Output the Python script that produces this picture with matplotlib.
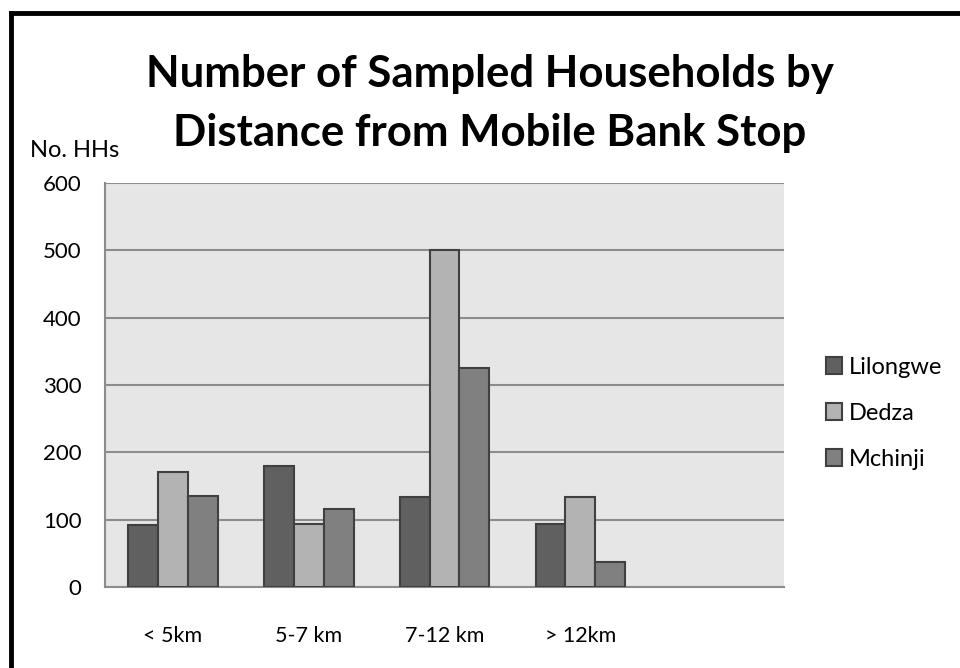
import numpy as np
import matplotlib.pyplot as plt
from matplotlib.lines import Line2D

# Households sampled per distance band, one list per district
categories = ['< 5km', '5-7 km', '7-12 km', '> 12km', '']
lilongwe = [92, 180, 133, 94]
dedza = [171, 94, 501, 133]
mchinji = [135, 116, 325, 37]
districts = ['Lilongwe', 'Dedza', 'Mchinji']
colors = ['#606060', '#b3b3b3', '#808080']

plt.rcParams['font.family'] = ['Lato', 'DejaVu Sans']

fig = plt.figure(figsize=(9.6, 6.68), dpi=100)
ax = fig.add_axes([0.1094, 0.1213, 0.7073, 0.6048])
ax.set_facecolor('#e6e6e6')

x = np.arange(len(categories))
w = 0.22
for i, (vals, name, c) in enumerate(zip([lilongwe, dedza, mchinji], districts, colors)):
    xs = x[:len(vals)] + (i - 1) * w
    ax.bar(xs, vals, width=w, color=c, edgecolor='#404040', linewidth=1.5,
           label=name, zorder=3)

ax.set_xlim(-0.5, len(categories) - 0.5)
ax.set_ylim(0, 600)
ax.set_yticks(np.arange(0, 601, 100))
ax.set_xticks(x)
ax.set_xticklabels(categories)
ax.yaxis.grid(True, color='#8c8c8c', linewidth=1.5, zorder=0)
ax.set_axisbelow(True)
for s in ['top', 'right']:
    ax.spines[s].set_visible(False)
for s in ['left', 'bottom']:
    ax.spines[s].set_color('#8c8c8c')
    ax.spines[s].set_linewidth(1.5)
ax.tick_params(axis='y', length=0, labelsize=16, pad=17)
ax.tick_params(axis='x', length=0, labelsize=15.5, pad=28)

fig.text(0.51, 0.845, 'Number of Sampled Households by\nDistance from Mobile Bank Stop',
         ha='center', va='center', fontsize=31.5, fontweight='bold', linespacing=1.6)
fig.text(0.031, 0.775, 'No. HHs', ha='left', va='center', fontsize=17)

leg = ax.legend(loc='center left', bbox_to_anchor=(1.03, 0.43), frameon=False,
                fontsize=17, handlelength=0.7, handleheight=0.7,
                handletextpad=0.3, labelspacing=1.05)

# black frame along top and left edges
fig.add_artist(Line2D([0.011, 1.0], [0.981, 0.981], color='black', linewidth=3.5,
                      transform=fig.transFigure))
fig.add_artist(Line2D([0.011, 0.011], [0.0, 0.981], color='black', linewidth=3.5,
                      transform=fig.transFigure))

fig.savefig('out.png', dpi=100)
